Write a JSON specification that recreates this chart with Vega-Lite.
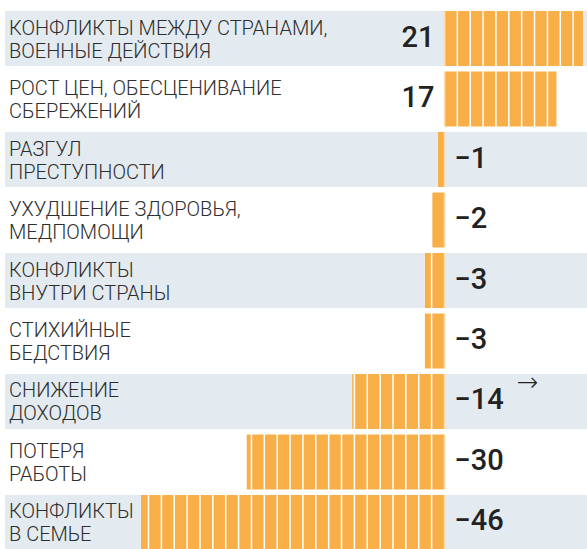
{
  "$schema": "https://vega.github.io/schema/vega-lite/v6.json",
  "width": 582,
  "height": 539,
  "autosize": {"type": "none"},
  "padding": {"left": 5, "top": 11, "right": 0, "bottom": 0},
  "background": "#ffffff",
  "config": {"view": {"stroke": null}},
  "datasets": {
    "rows": [
      {"order": 1, "label": "КОНФЛИКТЫ МЕЖДУ СТРАНАМИ,|ВОЕННЫЕ ДЕЙСТВИЯ", "value": 21, "note": ""},
      {"order": 2, "label": "РОСТ ЦЕН, ОБЕСЦЕНИВАНИЕ|СБЕРЕЖЕНИЙ", "value": 17, "note": ""},
      {"order": 3, "label": "РАЗГУЛ|ПРЕСТУПНОСТИ", "value": -1, "note": ""},
      {"order": 4, "label": "УХУДШЕНИЕ ЗДОРОВЬЯ,|МЕДПОМОЩИ", "value": -2, "note": ""},
      {"order": 5, "label": "КОНФЛИКТЫ|ВНУТРИ СТРАНЫ", "value": -3, "note": ""},
      {"order": 6, "label": "СТИХИЙНЫЕ|БЕДСТВИЯ", "value": -3, "note": ""},
      {"order": 7, "label": "СНИЖЕНИЕ|ДОХОДОВ", "value": -14, "note": "→"},
      {"order": 8, "label": "ПОТЕРЯ|РАБОТЫ", "value": -30, "note": ""},
      {"order": 9, "label": "КОНФЛИКТЫ|В СЕМЬЕ", "value": -46, "note": ""}
    ],
    "ticks": [
      {"t": -44.85}, {"t": -42.9}, {"t": -40.95}, {"t": -39}, {"t": -37.05}, {"t": -35.1},
      {"t": -33.15}, {"t": -31.2}, {"t": -29.25}, {"t": -27.3}, {"t": -25.35}, {"t": -23.4},
      {"t": -21.45}, {"t": -19.5}, {"t": -17.55}, {"t": -15.6}, {"t": -13.65}, {"t": -11.7},
      {"t": -9.75}, {"t": -7.8}, {"t": -5.85}, {"t": -3.9}, {"t": -1.95},
      {"t": 1.95}, {"t": 3.9}, {"t": 5.85}, {"t": 7.8}, {"t": 9.75}, {"t": 11.7},
      {"t": 13.65}, {"t": 15.6}, {"t": 17.55}, {"t": 19.5}, {"t": 21.45}
    ]
  },
  "data": {"name": "rows"},
  "layer": [
    {
      "mark": {"type": "bar", "color": "#f9af47"},
      "encoding": {
        "x": {"field": "value", "type": "quantitative", "scale": {"domain": [-66.6, 21.6], "nice": false, "zero": false}, "axis": null},
        "x2": {"datum": 0},
        "y": {"field": "label", "type": "nominal", "sort": null, "axis": null, "scale": {"paddingInner": 0.0909, "paddingOuter": 0}}
      }
    },
    {
      "data": {"name": "ticks"},
      "mark": {"type": "rule", "color": "#ffffff", "strokeWidth": 1.5},
      "encoding": {
        "x": {"field": "t", "type": "quantitative"}
      }
    },
    {
      "transform": [{"filter": "datum.value < 0"}],
      "mark": {"type": "bar"},
      "encoding": {
        "x": {"field": "value", "type": "quantitative"},
        "x2": {"datum": -66.6},
        "y": {"field": "label", "type": "nominal", "sort": null, "axis": null},
        "color": {"condition": {"test": "datum.order % 2 == 1", "value": "#e3ebf0"}, "value": "#ffffff"}
      }
    },
    {
      "transform": [{"filter": "datum.value < 0"}],
      "mark": {"type": "bar"},
      "encoding": {
        "x": {"datum": 0, "type": "quantitative"},
        "x2": {"datum": 21.6},
        "y": {"field": "label", "type": "nominal", "sort": null, "axis": null},
        "color": {"condition": {"test": "datum.order % 2 == 1", "value": "#e3ebf0"}, "value": "#ffffff"}
      }
    },
    {
      "transform": [{"filter": "datum.value > 0"}],
      "mark": {"type": "bar"},
      "encoding": {
        "x": {"datum": -66.6, "type": "quantitative"},
        "x2": {"datum": 0},
        "y": {"field": "label", "type": "nominal", "sort": null, "axis": null},
        "color": {"condition": {"test": "datum.order % 2 == 1", "value": "#e3ebf0"}, "value": "#ffffff"}
      }
    },
    {
      "transform": [{"filter": "datum.value > 0"}],
      "mark": {"type": "bar"},
      "encoding": {
        "x": {"field": "value", "type": "quantitative"},
        "x2": {"datum": 21.6},
        "y": {"field": "label", "type": "nominal", "sort": null, "axis": null},
        "color": {"condition": {"test": "datum.order % 2 == 1", "value": "#e3ebf0"}, "value": "#ffffff"}
      }
    },
    {
      "mark": {"type": "bar", "color": "#fcdcaa"},
      "encoding": {
        "x": {"datum": -0.1, "type": "quantitative"},
        "x2": {"datum": 0.15},
        "y": {"field": "label", "type": "nominal", "sort": null, "axis": null}
      }
    },
    {
      "mark": {"type": "text", "align": "left", "baseline": "middle", "dx": 4, "dy": -10, "lineBreak": "|", "lineHeight": 23, "font": "Roboto", "fontSize": 20, "fontWeight": 300, "color": "#2e2e2e"},
      "encoding": {
        "x": {"datum": -66.6, "type": "quantitative"},
        "y": {"field": "label", "type": "nominal", "sort": null, "axis": null},
        "text": {"field": "label", "type": "nominal"}
      }
    },
    {
      "transform": [{"filter": "datum.value > 0"}],
      "mark": {"type": "text", "align": "right", "baseline": "middle", "dx": -10, "dy": -1, "font": "Roboto", "fontSize": 29, "fontWeight": 500, "color": "#222222"},
      "encoding": {
        "x": {"datum": 0, "type": "quantitative"},
        "y": {"field": "label", "type": "nominal", "sort": null, "axis": null},
        "text": {"field": "value", "type": "quantitative", "format": "d"}
      }
    },
    {
      "transform": [{"filter": "datum.value < 0"}],
      "mark": {"type": "text", "align": "left", "baseline": "middle", "dx": 10, "dy": -1, "font": "Roboto", "fontSize": 29, "fontWeight": 500, "color": "#222222"},
      "encoding": {
        "x": {"datum": 0, "type": "quantitative"},
        "y": {"field": "label", "type": "nominal", "sort": null, "axis": null},
        "text": {"field": "value", "type": "quantitative", "format": "d"}
      }
    },
    {
      "transform": [{"filter": "datum.note != ''"}],
      "mark": {"type": "text", "align": "center", "baseline": "middle", "dy": -18, "font": "DejaVu Sans", "fontSize": 26, "fontWeight": 200, "color": "#222222"},
      "encoding": {
        "x": {"datum": 12.6, "type": "quantitative"},
        "y": {"field": "label", "type": "nominal", "sort": null, "axis": null},
        "text": {"field": "note", "type": "nominal"}
      }
    }
  ]
}
